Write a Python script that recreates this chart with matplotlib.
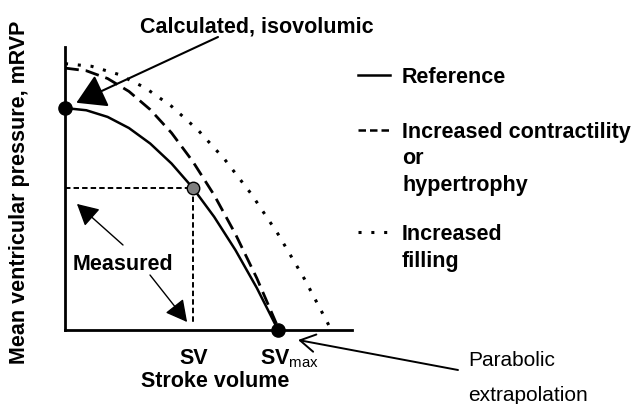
import matplotlib
matplotlib.use("Agg")
import matplotlib.pyplot as plt
from matplotlib.lines import Line2D

plt.rcParams["font.family"] = ["Liberation Sans", "DejaVu Sans"]
plt.rcParams["mathtext.fontset"] = "custom"
plt.rcParams["mathtext.rm"] = "Liberation Sans"
plt.rcParams["mathtext.bf"] = "Liberation Sans:bold"

# curves (stroke volume, pressure; reference SVmax = 1, isovolumic P = 1)
sv_ref = [0, 0.1, 0.2, 0.3, 0.4, 0.5, 0.6, 0.7, 0.8, 0.9, 1.0]
p_ref = [1.0, 0.99, 0.96, 0.91, 0.84, 0.75, 0.64, 0.51, 0.36, 0.19, 0.0]

sv_contr = [0, 0.1, 0.2, 0.3, 0.4, 0.5, 0.6, 0.7, 0.8, 0.9, 1.005]
p_contr = [1.18, 1.168, 1.133, 1.075, 0.993, 0.888, 0.759, 0.608, 0.432, 0.234, 0.0]

sv_fill = [0, 0.125, 0.25, 0.375, 0.5, 0.625, 0.75, 0.875, 1.0, 1.125, 1.25]
p_fill = [1.2, 1.188, 1.152, 1.092, 1.008, 0.9, 0.768, 0.612, 0.432, 0.228, 0.0]

sv_measured, p_measured = 0.6, 0.64
sv_iso, p_iso = 0.0, 1.0
sv_max = 1.0

legend_labels = ["Reference", "Increased contractility\nor\nhypertrophy", "Increased\nfilling"]

W, H = 638, 404
fig = plt.figure(figsize=(W / 100, H / 100), dpi=100)
ax = fig.add_axes([65 / W, 74 / H, 287 / W, 283 / H])
ax.set_xlim(0, 1.347)
ax.set_ylim(0, 1.275)
for s in ["top", "right"]:
    ax.spines[s].set_visible(False)
for s in ["left", "bottom"]:
    ax.spines[s].set_linewidth(2.0)
ax.set_xticks([])
ax.set_yticks([])

ax.plot(sv_ref, p_ref, color="black", lw=1.8, solid_capstyle="butt")
ax.plot(sv_contr, p_contr, color="black", lw=2.0, linestyle=(0, (5, 2.5)))
ax.plot(sv_fill, p_fill, color="black", lw=2.2, linestyle=(0, (1, 3.2)))

# measured guides
ax.plot([0, sv_measured], [p_measured, p_measured], color="black", lw=1.4, linestyle=(0, (2.8, 1.6)))
ax.plot([sv_measured, sv_measured], [p_measured, 0.03], color="black", lw=1.4, linestyle=(0, (2.8, 1.6)))

ax.plot([sv_iso], [p_iso], "o", color="black", ms=9.5, clip_on=False, zorder=5)
ax.plot([sv_max], [0], "o", color="black", ms=9.5, clip_on=False, zorder=5)
ax.plot([sv_measured], [p_measured], "o", mfc="#7f7f7f", mec="black", mew=1.0, ms=9, zorder=5)

# overlay in image pixels for text and legend
ov = fig.add_axes([0, 0, 1, 1])
ov.set_xlim(0, W)
ov.set_ylim(H, 0)
ov.axis("off")

bold = dict(fontsize=15.5, fontweight="bold", color="black")

ov.text(20, 192, "Mean ventricular pressure, mRVP", rotation=90, ha="center", va="center", **bold)
ov.text(215, 387, "Stroke volume", ha="center", va="baseline", **bold)
ov.annotate("SV", xy=(sv_measured, 0), xycoords=ax.transData, xytext=(1, -34),
            textcoords="offset pixels", ha="center", va="baseline", **bold)
ov.annotate(r"$\mathbf{SV}_{\mathrm{max}}$", xy=(sv_max, 0), xycoords=ax.transData, xytext=(-18, -34),
            textcoords="offset pixels", ha="left", va="baseline", **bold)

ov.text(140, 32, "Calculated, isovolumic", ha="left", va="baseline", **bold)
ov.annotate("", xy=(sv_iso, p_iso), xycoords=ax.transData, xytext=(218, 37), textcoords=ov.transData,
            arrowprops=dict(arrowstyle="-|>,head_length=0.6,head_width=0.36", mutation_scale=30,
                            color="black", lw=1.5, shrinkA=0, shrinkB=9))

ov.text(73, 270, "Measured", ha="left", va="baseline", **bold)
ov.annotate("", xy=(0.056, 0.568), xycoords=ax.transData, xytext=(123, 245), textcoords=ov.transData,
            arrowprops=dict(arrowstyle="-|>,head_length=0.6,head_width=0.32", mutation_scale=22,
                            color="black", lw=1.0, shrinkA=0, shrinkB=0))
ov.annotate("", xy=(0.573, 0.036), xycoords=ax.transData, xytext=(150, 275), textcoords=ov.transData,
            arrowprops=dict(arrowstyle="-|>,head_length=0.6,head_width=0.32", mutation_scale=22,
                            color="black", lw=1.0, shrinkA=0, shrinkB=0))

ov.text(468, 366, "Parabolic", ha="left", va="baseline", fontsize=15, color="black")
ov.text(468, 401, "extrapolation", ha="left", va="baseline", fontsize=15, color="black")
ov.annotate("", xy=(1.094, -0.045), xycoords=ax.transData, xytext=(458, 370), textcoords=ov.transData,
            arrowprops=dict(arrowstyle="->,head_length=0.6,head_width=0.35", mutation_scale=18,
                            color="black", lw=1.4, shrinkA=0, shrinkB=0))

# legend: sample line, then label lines stacked below the first baseline
styles = [dict(lw=1.8, linestyle="-"), dict(lw=1.8, linestyle=(0, (3, 1.6))), dict(lw=2.2, linestyle=(0, (1, 3.2)))]
legend_y = [75, 130, 232]
line_step = 26.5
for lab, st, y in zip(legend_labels, styles, legend_y):
    ov.add_line(Line2D([358, 390], [y, y], color="black", **st))
    for k, part in enumerate(lab.split("\n")):
        ov.text(402, y + 8 + k * line_step, part, ha="left", va="baseline", **bold)

fig.savefig("out.png", dpi=100)
